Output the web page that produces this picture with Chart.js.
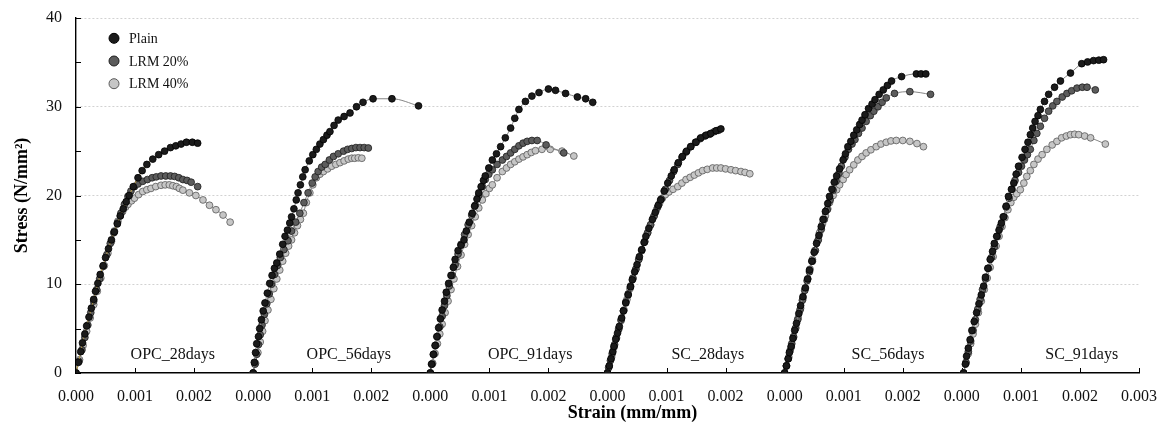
<!DOCTYPE html>
<html>
<head>
<meta charset="utf-8">
<script src="https://cdn.jsdelivr.net/npm/chart.js@4.4.1/dist/chart.umd.min.js"></script>
<style>
html,body{margin:0;padding:0;background:#fff;}
#wrap{width:1161px;height:430px;position:relative;}
</style>
</head>
<body>
<div id="wrap"><canvas id="c" width="1161" height="430"></canvas></div>
<script>
// ---------- DATA ----------
const SERIES_NAMES = ['Plain', 'LRM 20%', 'LRM 40%'];
const PANEL_LABELS = ['OPC_28days', 'OPC_56days', 'OPC_91days', 'SC_28days', 'SC_56days', 'SC_91days'];
const PANEL_OFFSETS = [0, 0.003, 0.006, 0.009, 0.012, 0.015];
const PANEL_LABEL_STRAIN = [0.00164, 0.00162, 0.00169, 0.00170, 0.00175, 0.00203];
const PANEL_LABEL_STRESS = 2;
const X_TICK_LABELS = ['0.000','0.001','0.002','0.000','0.001','0.002','0.000','0.001','0.002',
                       '0.000','0.001','0.002','0.000','0.001','0.002','0.000','0.001','0.002','0.003'];
const Y_TICK_LABELS = ['0', '10', '20', '30', '40'];
const Y_MINOR_STEP = 5;
const X_TITLE = 'Strain (mm/mm)';
const Y_TITLE = 'Stress (N/mm²)';

// [strain, stress] pairs
const OPC28_PLAIN = [[0,0],[0.00004,1.2],[0.00008,2.4],[0.00011,3.4],[0.00015,4.4],[0.00018,5.3],[0.00022,6.3],[0.00026,7.3],[0.0003,8.3],[0.00033,9.2],[0.00037,10.1],[0.00041,11.1],[0.00046,12.1],[0.0005,13.0],[0.00055,14.0],[0.0006,15.0],[0.00065,15.9],[0.0007,16.8],[0.00075,17.7],[0.0008,18.5],[0.00085,19.3],[0.0009,20.0],[0.00097,21.0],[0.00105,22.0],[0.00112,22.8],[0.0012,23.5],[0.0013,24.1],[0.0014,24.6],[0.0015,25.0],[0.0016,25.4],[0.00169,25.6],[0.00178,25.8],[0.00187,26.0],[0.00197,26.0],[0.00206,25.9]];
const OPC28_LRM20 = [[0,0],[0.00005,1.3],[0.0001,2.6],[0.00015,4.0],[0.0002,5.4],[0.00025,6.8],[0.0003,8.1],[0.00035,9.4],[0.0004,10.6],[0.00046,12.0],[0.00052,13.3],[0.00058,14.6],[0.00064,15.8],[0.0007,16.9],[0.00076,18.0],[0.00082,19.0],[0.00088,19.9],[0.00093,20.5],[0.00099,21.0],[0.00105,21.3],[0.00113,21.6],[0.00121,21.8],[0.00129,22.0],[0.00136,22.1],[0.00144,22.2],[0.00152,22.2],[0.0016,22.2],[0.00167,22.15],[0.00174,22.0],[0.00181,21.8],[0.00188,21.7],[0.00195,21.5],[0.00206,21.0]];
const OPC28_LRM40 = [[0,0],[0.00006,1.5],[0.00012,3.1],[0.00018,4.7],[0.00024,6.2],[0.0003,7.7],[0.00036,9.2],[0.00042,10.7],[0.00048,12.1],[0.00054,13.5],[0.0006,14.8],[0.00065,16.0],[0.00071,17.1],[0.00075,17.7],[0.00079,18.2],[0.00084,18.7],[0.00088,19.0],[0.00094,19.4],[0.00099,19.7],[0.00106,20.1],[0.00113,20.45],[0.0012,20.65],[0.00127,20.8],[0.00135,21.0],[0.00144,21.15],[0.00151,21.2],[0.00158,21.2],[0.00164,21.1],[0.0017,21.0],[0.00175,20.8],[0.00181,20.6],[0.00192,20.3],[0.00203,20.0],[0.00215,19.5],[0.00226,18.9],[0.00237,18.4],[0.00249,17.8],[0.00261,17.0]];

const OPC56_PLAIN = [[0,0],[0.00002,1.2],[0.00004,2.3],[0.00006,3.3],[0.00009,4.1],[0.00011,5.0],[0.00014,6.0],[0.00017,7.0],[0.0002,7.9],[0.00024,9.0],[0.00028,10.1],[0.00032,11.0],[0.00036,11.8],[0.0004,12.4],[0.00045,13.4],[0.0005,14.5],[0.00054,15.4],[0.00058,16.1],[0.00062,16.9],[0.00065,17.6],[0.00069,18.5],[0.00073,19.5],[0.00076,20.3],[0.0008,21.2],[0.00084,22.1],[0.00088,22.9],[0.00095,23.9],[0.00101,24.6],[0.00107,25.2],[0.00113,25.8],[0.00119,26.3],[0.00125,26.8],[0.0013,27.2],[0.00137,27.9],[0.00144,28.5],[0.00154,28.9],[0.00164,29.3],[0.00175,30.0],[0.00186,30.5],[0.00203,30.9],[0.00235,30.9],[0.0028,30.1]];
const OPC56_LRM20 = [[0,0],[0.00003,1.0],[0.00006,2.1],[0.00009,3.2],[0.00012,4.3],[0.00015,5.4],[0.00019,6.6],[0.00023,7.8],[0.00027,8.9],[0.00031,10.0],[0.00036,11.1],[0.00041,12.1],[0.00046,13.0],[0.00052,13.9],[0.00059,14.9],[0.00065,16.0],[0.00072,17.0],[0.00079,18.0],[0.00086,19.2],[0.00093,20.3],[0.001,21.4],[0.00105,22.1],[0.0011,22.7],[0.00116,23.2],[0.00122,23.5],[0.00129,24.0],[0.00136,24.4],[0.00144,24.7],[0.00153,25.0],[0.0016,25.2],[0.00167,25.3],[0.00174,25.4],[0.00181,25.4],[0.00188,25.4],[0.00195,25.35]];
const OPC56_LRM40 = [[0,0],[0.00004,1.1],[0.00008,2.3],[0.00012,3.5],[0.00016,4.7],[0.0002,5.9],[0.00025,7.1],[0.0003,8.3],[0.00035,9.5],[0.0004,10.6],[0.00045,11.6],[0.0005,12.6],[0.00055,13.5],[0.0006,14.3],[0.00065,15.0],[0.0007,15.8],[0.00075,16.6],[0.0008,17.3],[0.00085,18.0],[0.0009,19.2],[0.00096,20.3],[0.00101,21.2],[0.00107,22.0],[0.00113,22.4],[0.00119,22.7],[0.00126,23.0],[0.00133,23.3],[0.0014,23.5],[0.00147,23.7],[0.00154,23.9],[0.00161,24.1],[0.00167,24.2],[0.00172,24.2],[0.00178,24.25],[0.00184,24.2]];

const OPC91_PLAIN = [[0,0],[0.00002,1.0],[0.00005,2.1],[0.00008,3.1],[0.00011,4.1],[0.00014,5.1],[0.00017,6.1],[0.0002,7.1],[0.00024,8.1],[0.00027,9.1],[0.00031,10.1],[0.00035,11.0],[0.00039,11.9],[0.00042,12.8],[0.00047,13.8],[0.00052,14.4],[0.00057,15.0],[0.00061,16.0],[0.00066,17.0],[0.00071,18.0],[0.00075,18.8],[0.00079,19.6],[0.00082,20.3],[0.00086,21.0],[0.0009,21.7],[0.00093,22.2],[0.00099,23.1],[0.00105,24.0],[0.00112,24.7],[0.00119,25.5],[0.00127,26.5],[0.00136,27.6],[0.00143,28.7],[0.0015,29.7],[0.00161,30.6],[0.00172,31.2],[0.00184,31.6],[0.002,32.0],[0.00212,31.85],[0.00229,31.5],[0.00249,31.1],[0.00263,30.9],[0.00275,30.5]];
const OPC91_LRM20 = [[0,0],[0.00003,1.0],[0.00006,2.1],[0.00009,3.1],[0.00012,4.1],[0.00016,5.2],[0.0002,6.4],[0.00024,7.6],[0.00028,8.7],[0.00032,9.8],[0.00037,11.0],[0.00042,12.2],[0.00047,13.4],[0.00052,14.5],[0.00058,15.6],[0.00064,16.7],[0.0007,17.8],[0.00076,18.9],[0.00082,20.0],[0.00088,21.0],[0.00093,21.8],[0.00099,22.4],[0.00105,22.9],[0.00113,23.5],[0.00122,24.0],[0.00129,24.4],[0.00136,24.8],[0.00143,25.2],[0.0015,25.6],[0.00157,25.9],[0.00164,26.1],[0.00172,26.2],[0.00181,26.2],[0.00196,25.7],[0.00226,24.8]];
const OPC91_LRM40 = [[0,0],[0.00004,1.1],[0.00008,2.2],[0.00012,3.3],[0.00016,4.4],[0.0002,5.5],[0.00025,6.8],[0.0003,8.1],[0.00035,9.4],[0.0004,10.6],[0.00046,12.0],[0.00052,13.3],[0.00058,14.5],[0.00064,15.6],[0.0007,16.6],[0.00076,17.6],[0.00082,18.6],[0.00088,19.5],[0.00094,20.2],[0.001,20.8],[0.00105,21.2],[0.00113,22.0],[0.00122,22.7],[0.00129,23.1],[0.00136,23.5],[0.00143,23.8],[0.0015,24.1],[0.00157,24.35],[0.00164,24.6],[0.00171,24.85],[0.00178,25.05],[0.00189,25.2],[0.00203,25.2],[0.00223,25.0],[0.00243,24.45]];

const SC28_PLAIN = [[0,0],[0.00003,0.8],[0.00006,1.6],[0.00009,2.4],[0.00011,3.0],[0.00014,3.8],[0.00017,4.5],[0.0002,5.25],[0.00024,6.2],[0.00027,7.0],[0.00031,7.9],[0.00035,8.8],[0.00039,9.7],[0.00042,10.5],[0.00046,11.4],[0.0005,12.2],[0.00054,13.1],[0.00058,13.9],[0.00062,14.7],[0.00065,15.4],[0.0007,16.3],[0.00076,17.3],[0.00081,18.1],[0.00086,18.9],[0.0009,19.5],[0.00096,20.5],[0.00102,21.4],[0.00108,22.2],[0.00113,22.9],[0.0012,23.7],[0.00127,24.4],[0.00134,25.0],[0.00141,25.5],[0.0015,26.0],[0.00158,26.5],[0.00167,26.8],[0.00175,27.0],[0.00184,27.3],[0.00192,27.5]];
const SC28_LRM20 = [[0,0],[0.00002,0.6],[0.00005,1.4],[0.00008,2.2],[0.00012,3.2],[0.00015,4.0],[0.00019,5.0],[0.00023,6.0],[0.00027,7.0],[0.00031,8.0],[0.00035,8.9],[0.00039,9.8],[0.00043,10.7],[0.00048,11.7],[0.00053,12.8],[0.00058,13.8],[0.00063,14.8],[0.00068,15.8],[0.00073,16.7],[0.00079,17.7],[0.00085,18.7],[0.00091,19.6],[0.00098,20.7],[0.00105,21.7],[0.00112,22.7],[0.00119,23.5],[0.00126,24.3],[0.00133,24.9],[0.00141,25.5],[0.00149,26.0],[0.00157,26.4],[0.00165,26.7],[0.00173,26.9],[0.00181,27.2],[0.00188,27.35]];
const SC28_LRM40 = [[0,0],[0.00003,0.8],[0.00007,1.8],[0.00011,2.9],[0.00015,3.9],[0.00019,4.9],[0.00023,5.9],[0.00028,7.1],[0.00033,8.3],[0.00038,9.5],[0.00043,10.6],[0.00048,11.7],[0.00053,12.8],[0.00058,13.8],[0.00063,14.8],[0.00068,15.8],[0.00073,16.7],[0.00078,17.6],[0.00083,18.4],[0.00088,19.1],[0.00093,19.7],[0.00098,20.1],[0.00104,20.4],[0.00111,20.7],[0.00119,21.0],[0.00126,21.4],[0.00133,21.8],[0.0014,22.05],[0.00147,22.3],[0.00154,22.55],[0.00161,22.8],[0.00169,22.95],[0.00178,23.1],[0.00185,23.1],[0.00192,23.1],[0.002,23.0],[0.00209,22.9],[0.00217,22.8],[0.00226,22.7],[0.00233,22.6],[0.00241,22.45]];

const SC56_PLAIN = [[0,0],[0.00003,0.8],[0.00006,1.6],[0.00008,2.3],[0.00011,3.0],[0.00014,3.9],[0.00017,4.8],[0.0002,5.6],[0.00024,6.7],[0.00027,7.6],[0.00031,8.6],[0.00035,9.6],[0.00039,10.6],[0.00042,11.6],[0.00046,12.6],[0.0005,13.6],[0.00054,14.6],[0.00058,15.5],[0.00062,16.5],[0.00065,17.3],[0.00069,18.2],[0.00073,19.1],[0.00076,19.9],[0.0008,20.7],[0.00084,21.5],[0.00088,22.2],[0.00093,23.0],[0.00099,24.0],[0.00103,24.7],[0.00107,25.5],[0.00112,26.1],[0.00117,26.8],[0.00122,27.4],[0.00127,28.0],[0.00131,28.5],[0.00136,29.1],[0.00142,29.8],[0.00148,30.3],[0.00153,30.8],[0.0016,31.4],[0.00167,31.9],[0.00174,32.4],[0.00181,32.9],[0.00198,33.4],[0.00223,33.7],[0.00231,33.7],[0.00239,33.7]];
const SC56_LRM20 = [[0,0],[0.00003,0.8],[0.00006,1.6],[0.00009,2.5],[0.00012,3.3],[0.00015,4.1],[0.00018,5.0],[0.00022,6.0],[0.00026,7.1],[0.0003,8.2],[0.00034,9.3],[0.00038,10.4],[0.00042,11.4],[0.00047,12.6],[0.00052,13.8],[0.00057,15.0],[0.00062,16.2],[0.00067,17.3],[0.00072,18.4],[0.00077,19.5],[0.00082,20.6],[0.00087,21.6],[0.00092,22.5],[0.00096,23.3],[0.00102,24.3],[0.00108,25.2],[0.00114,25.8],[0.00119,26.3],[0.00125,27.0],[0.00131,27.6],[0.00138,28.35],[0.00145,29.0],[0.00151,29.5],[0.00158,30.0],[0.00165,30.5],[0.00172,31.0],[0.00186,31.5],[0.00212,31.7],[0.00247,31.4]];
const SC56_LRM40 = [[0,0],[0.00003,0.8],[0.00007,1.8],[0.00011,2.9],[0.00015,4.0],[0.00019,5.1],[0.00023,6.2],[0.00027,7.3],[0.00031,8.4],[0.00035,9.5],[0.00039,10.6],[0.00043,11.7],[0.00047,12.8],[0.00051,13.8],[0.00055,14.8],[0.00059,15.8],[0.00064,16.8],[0.00069,17.7],[0.00073,18.5],[0.00076,19.2],[0.00082,20.0],[0.00088,20.65],[0.00093,21.2],[0.00099,21.8],[0.00104,22.35],[0.0011,22.9],[0.00117,23.45],[0.00124,24.0],[0.00131,24.4],[0.00138,24.8],[0.00146,25.15],[0.00155,25.5],[0.00163,25.8],[0.00172,26.0],[0.0018,26.15],[0.00189,26.2],[0.002,26.2],[0.00212,26.1],[0.00224,25.85],[0.00235,25.5]];

const SC91_PLAIN = [[0.00003,0],[0.00006,1.0],[0.00008,1.9],[0.00011,2.8],[0.00014,3.75],[0.00017,4.8],[0.00021,5.8],[0.00025,6.8],[0.00029,7.8],[0.00033,8.8],[0.00037,9.8],[0.0004,10.8],[0.00044,11.8],[0.00048,12.8],[0.00052,13.7],[0.00055,14.6],[0.00059,15.4],[0.00063,16.1],[0.00067,16.9],[0.00071,17.6],[0.00075,18.8],[0.00079,19.9],[0.00084,20.7],[0.00088,21.4],[0.00092,22.4],[0.00096,23.3],[0.00102,24.3],[0.00107,25.2],[0.00112,26.0],[0.00116,26.85],[0.0012,27.6],[0.00124,28.35],[0.00129,29.0],[0.00133,29.7],[0.0014,30.6],[0.00147,31.4],[0.00157,32.2],[0.00167,32.9],[0.00184,33.8],[0.00203,34.85],[0.00213,35.05],[0.00223,35.2],[0.00232,35.25],[0.0024,35.3]];
const SC91_LRM20 = [[0.00003,0],[0.00007,1.2],[0.00011,2.4],[0.00015,3.6],[0.00019,4.8],[0.00023,6.0],[0.00027,7.2],[0.00031,8.3],[0.00035,9.4],[0.0004,10.6],[0.00045,11.8],[0.0005,13.0],[0.00055,14.2],[0.0006,15.4],[0.00065,16.5],[0.0007,17.6],[0.00075,18.7],[0.0008,19.7],[0.00085,20.7],[0.0009,21.7],[0.00096,22.6],[0.00101,23.3],[0.00106,24.0],[0.00111,24.6],[0.00116,25.2],[0.00122,26.2],[0.00127,27.0],[0.00133,27.8],[0.0014,28.7],[0.00147,29.5],[0.00154,30.1],[0.00161,30.6],[0.0017,31.1],[0.00178,31.5],[0.00186,31.8],[0.00195,32.1],[0.00204,32.2],[0.00212,32.2],[0.00226,31.9]];
const SC91_LRM40 = [[0.00003,0],[0.00007,1.1],[0.00011,2.2],[0.00015,3.3],[0.00019,4.4],[0.00023,5.5],[0.00028,6.8],[0.00033,8.1],[0.00038,9.4],[0.00043,10.7],[0.00048,11.9],[0.00053,13.1],[0.00058,14.3],[0.00063,15.4],[0.00068,16.5],[0.00073,17.5],[0.00078,18.4],[0.00083,19.2],[0.00088,19.8],[0.00093,20.2],[0.00099,20.65],[0.00105,21.4],[0.0011,22.15],[0.00116,22.8],[0.00122,23.5],[0.00129,24.1],[0.00136,24.6],[0.00144,25.2],[0.00153,25.7],[0.00161,26.1],[0.00169,26.5],[0.00177,26.7],[0.00184,26.85],[0.00191,26.9],[0.00198,26.85],[0.00208,26.7],[0.00218,26.5],[0.00243,25.8]];

// panel -> [Plain, LRM 20%, LRM 40%]
const PANEL_DATA = [
  [OPC28_PLAIN, OPC28_LRM20, OPC28_LRM40],
  [OPC56_PLAIN, OPC56_LRM20, OPC56_LRM40],
  [OPC91_PLAIN, OPC91_LRM20, OPC91_LRM40],
  [SC28_PLAIN,  SC28_LRM20,  SC28_LRM40],
  [SC56_PLAIN,  SC56_LRM20,  SC56_LRM40],
  [SC91_PLAIN,  SC91_LRM20,  SC91_LRM40]
];

// ---------- STYLE ----------
const FONT = "'Liberation Serif', 'Times New Roman', serif";
const SERIES_STYLE = [
  { fill: '#1b1b1b', stroke: '#000000' },
  { fill: '#5c5c5c', stroke: '#1e1e1e' },
  { fill: '#c6c6c6', stroke: '#5a5a5a' }
];
const LINE_COLOR = '#858585';

const datasets = [];
for (let s = 0; s < SERIES_NAMES.length; s++) {
  for (let p = 0; p < PANEL_DATA.length; p++) {
    const off = PANEL_OFFSETS[p];
    datasets.push({
      label: SERIES_NAMES[s],
      data: PANEL_DATA[p][s].map(([e, v]) => ({ x: e + off, y: v })),
      showLine: true,
      borderColor: (s === 0 && p === 0) ? '#b89a45' : LINE_COLOR,
      borderWidth: 1,
      cubicInterpolationMode: 'monotone',
      pointRadius: 3.4,
      pointBorderWidth: 0.8,
      pointBackgroundColor: SERIES_STYLE[s].fill,
      pointBorderColor: SERIES_STYLE[s].stroke,
      pointHoverRadius: 3.4
    });
  }
}

// ---------- PLUGINS ----------
const decorations = {
  id: 'decorations',
  beforeDatasetsDraw(chart) {
    const { ctx, chartArea, scales: { x, y } } = chart;
    ctx.save();
    ctx.strokeStyle = '#000';
    ctx.lineWidth = 1;
    x.ticks.forEach(t => {
      const px = Math.round(x.getPixelForValue(t.value)) + 0.5;
      ctx.beginPath();
      ctx.moveTo(px, chartArea.bottom);
      ctx.lineTo(px, chartArea.bottom - 5);
      ctx.stroke();
    });
    for (let v = y.min; v <= y.max + 1e-9; v += Y_MINOR_STEP) {
      const py = Math.round(y.getPixelForValue(v)) + 0.5;
      ctx.beginPath();
      ctx.moveTo(chartArea.left, py);
      ctx.lineTo(chartArea.left + 5, py);
      ctx.stroke();
    }
    ctx.fillStyle = '#111';
    ctx.font = '16px ' + FONT;
    ctx.textAlign = 'center';
    ctx.textBaseline = 'middle';
    PANEL_LABELS.forEach((lab, i) => {
      ctx.fillText(lab, x.getPixelForValue(PANEL_OFFSETS[i] + PANEL_LABEL_STRAIN[i]),
                   y.getPixelForValue(PANEL_LABEL_STRESS));
    });
    ctx.restore();
  },
  afterDraw(chart) {
    const { ctx, chartArea } = chart;
    ctx.save();
    ctx.font = '14px ' + FONT;
    ctx.textAlign = 'left';
    ctx.textBaseline = 'middle';
    SERIES_NAMES.forEach((name, i) => {
      const cy = chartArea.top + 20.3 + i * 22.7;
      const cx = chartArea.left + 38;
      ctx.beginPath();
      ctx.arc(cx, cy, 5, 0, Math.PI * 2);
      ctx.fillStyle = SERIES_STYLE[i].fill;
      ctx.fill();
      ctx.lineWidth = 1;
      ctx.strokeStyle = SERIES_STYLE[i].stroke;
      ctx.stroke();
      ctx.fillStyle = '#111';
      ctx.fillText(name, cx + 15, cy + 1);
    });
    ctx.font = 'bold 18px ' + FONT;
    ctx.textAlign = 'center';
    ctx.fillStyle = '#000';
    ctx.fillText(X_TITLE, (chartArea.left + chartArea.right) / 2 + 25, 413);
    ctx.restore();
  }
};

new Chart(document.getElementById('c'), {
  type: 'scatter',
  data: { datasets },
  plugins: [decorations],
  options: {
    responsive: false,
    animation: false,
    events: [],
    layout: { padding: { left: 0, right: 22, top: 18, bottom: 0 } },
    plugins: { legend: { display: false }, tooltip: { enabled: false } },
    scales: {
      x: {
        type: 'linear',
        min: 0,
        max: 0.018,
        afterBuildTicks: s => { s.ticks = X_TICK_LABELS.map((_, i) => ({ value: i * 0.001 })); },
        afterFit: s => { s.height = 57; s.paddingLeft = 0; s.paddingRight = 0; },
        ticks: {
          autoSkip: false,
          maxRotation: 0,
          padding: 14,
          color: '#111',
          font: { family: FONT, size: 16 },
          callback: (v, i) => X_TICK_LABELS[i]
        },
        grid: { display: true, drawOnChartArea: false, drawTicks: false },
        border: { display: true, color: '#000', width: 1.4 },
        title: { display: false }
      },
      y: {
        min: 0,
        max: 40,
        afterBuildTicks: s => { s.ticks = Y_TICK_LABELS.map(t => ({ value: Number(t) })); },
        afterFit: s => { s.width = 76; s.paddingTop = 0; s.paddingBottom = 0; },
        ticks: {
          padding: 14,
          color: '#111',
          font: { family: FONT, size: 16 },
          callback: (v, i) => Y_TICK_LABELS[i]
        },
        grid: {
          drawTicks: false,
          color: c => (c.tick && c.tick.value === 0) ? 'rgba(0,0,0,0)' : '#d2d2d2',
          lineWidth: 1
        },
        border: { display: true, color: '#000', width: 1.4, dash: [2, 2] },
        title: {
          display: true,
          text: Y_TITLE,
          color: '#000',
          font: { family: FONT, size: 18, weight: 'bold' },
          padding: { top: 12, bottom: 0 }
        }
      }
    }
  }
});
</script>
</body>
</html>
